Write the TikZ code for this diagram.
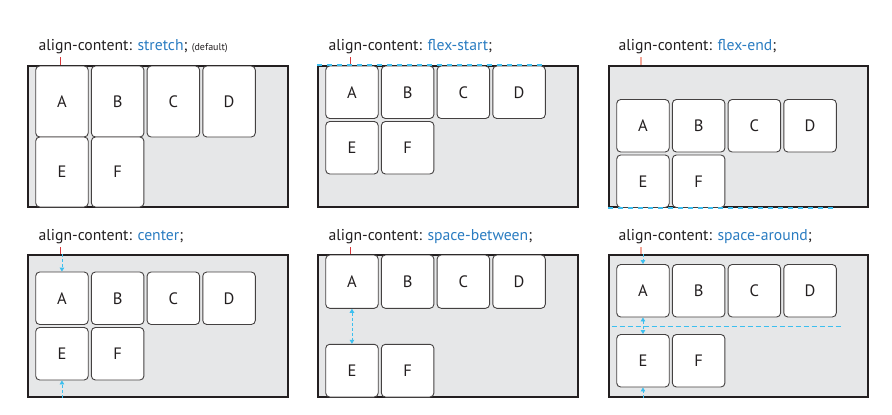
\documentclass[tikz,border=0pt]{standalone}
\usepackage{fontspec}
\setmainfont{PT Sans}
\usetikzlibrary{arrows.meta}
\definecolor{txt}{HTML}{231F20}
\definecolor{val}{HTML}{2A7CC1}
\definecolor{cy}{HTML}{3CBFEF}
\definecolor{contfill}{HTML}{E6E7E8}
\definecolor{tickred}{HTML}{D9373B}
\definecolor{ticklight}{HTML}{F4A89A}
\tikzset{
  cont/.style={draw=txt, line width=2pt, fill=contfill, inner sep=0pt},
  fbox/.style={draw=txt!85, line width=0.9pt, fill=white, rounded corners=4pt,
    minimum width=52.5pt, inner sep=0pt, font=\fontsize{16.5}{16.5}\selectfont, text=txt},
  lbl/.style={anchor=base west, inner sep=0pt, font=\fontsize{15.7}{15.7}\selectfont, text=txt},
  tick/.style={draw=tickred, line width=0.8pt},
  ticklt/.style={draw=ticklight, line width=1.2pt},
  cyarrow/.style={draw=cy, line width=0.9pt, dash pattern=on 3pt off 2pt,
    -{Triangle[length=4pt,width=4.5pt]}},
  cydbl/.style={draw=cy, line width=0.9pt, dash pattern=on 3pt off 2pt,
    {Triangle[length=4pt,width=4.5pt]}-{Triangle[length=4pt,width=4.5pt]}},
  cyline/.style={draw=cy, line width=0.9pt, dash pattern=on 5pt off 3pt},
  cyedge/.style={draw=cy, line width=2pt, dash pattern=on 5pt off 5pt},
}
% #1 prefix, #2 left x of container, #3 top row1, #4 height row1, #5 top row2, #6 height row2
\newcommand{\flexpanel}[6]{%
  \foreach \l [count=\i from 0] in {A,B,C,D}{
    \node[fbox, minimum height=#4pt] (#1\l) at ({#2+7.7+26.25+\i*55.7}, {#3+#4/2}) {\l};
  }
  \foreach \l [count=\i from 0] in {E,F}{
    \node[fbox, minimum height=#6pt] (#1\l) at ({#2+7.7+26.25+\i*55.7}, {#5+#6/2}) {\l};
  }
}
\begin{document}
\begin{tikzpicture}[x=1pt, y=-1pt]
\useasboundingbox (0,0) rectangle (892,415);

% containers
\node[cont, minimum width=260pt, minimum height=141pt] (p1) at (158,136.5) {};
\node[cont, minimum width=260pt, minimum height=141pt] (p2) at (448,136.5) {};
\node[cont, minimum width=259pt, minimum height=141pt] (p3) at (738.5,136.5) {};
\node[cont, minimum width=260pt, minimum height=142pt] (p4) at (158,326) {};
\node[cont, minimum width=260pt, minimum height=142pt] (p5) at (448,326) {};
\node[cont, minimum width=259pt, minimum height=142pt] (p6) at (738.5,326) {};

% labels
\node[lbl] (l1) at (38.3,50.7) {align-content: \textcolor{val}{stretch}; {\fontsize{10}{10}\selectfont(default)}};
\node[lbl] (l2) at (328.3,50.7) {align-content: \textcolor{val}{flex-start};};
\node[lbl] (l3) at (618.3,50.7) {align-content: \textcolor{val}{flex-end};};
\node[lbl] (l4) at (38.3,240.7) {align-content: \textcolor{val}{center};};
\node[lbl] (l5) at (328.3,240.7) {align-content: \textcolor{val}{space-between};};
\node[lbl] (l6) at (618.3,240.7) {align-content: \textcolor{val}{space-around};};

% boxes
\flexpanel{a}{28}{66}{71}{137}{70}
\flexpanel{b}{318}{66}{52.5}{121.5}{52.5}
\flexpanel{c}{609}{99.5}{52.5}{155}{52.5}
\flexpanel{d}{28}{272}{52.5}{327.5}{52.5}
\flexpanel{e}{318}{255}{53.3}{344.3}{52.7}
\flexpanel{f}{609}{264.5}{52.5}{334.5}{52.5}

% ticks
\coordinate (t1) at (60.5,57); \draw[tick] (t1) -- (t1 |- p1.north);
\coordinate (t2) at (350.5,57); \draw[tick] (t2) -- (t2 |- p2.north);
\coordinate (t3) at (641,57); \draw[ticklt] (t3) -- (t3 |- p3.north);
\coordinate (t4) at (60.5,247); \draw[tick] (t4) -- (t4 |- p4.north);
\coordinate (t5) at (350.5,247); \draw[tick] (t5) -- (t5 |- p5.north);
\coordinate (t6) at (641,247); \draw[ticklt] (t6) -- (t6 |- p6.north);

% flex-start / flex-end edges
\draw[cyedge] (p2.north west) -- (bD.north east |- p2.north);
\draw[cyedge] (p3.south west) -- (cD.south east |- p3.south);

% center arrows
\draw[cyarrow] (dA.north |- p4.north) -- (dA.north);
\draw[cyarrow] (dE.south |- p4.south) -- (dE.south);

% space-between
\draw[cydbl] (eA.south) -- (eE.north);

% space-around
\coordinate (h1) at (611.7,326.7);
\coordinate (h2) at (843.3,326.7);
\draw[cyline] (h1) -- (h2);
\draw[cyarrow] (fA.north |- p6.north) -- (fA.north);
\draw[cydbl] (fA.south) -- (fE.north);
\draw[cyarrow] (fE.south |- p6.south) -- (fE.south);
\end{tikzpicture}
\end{document}
